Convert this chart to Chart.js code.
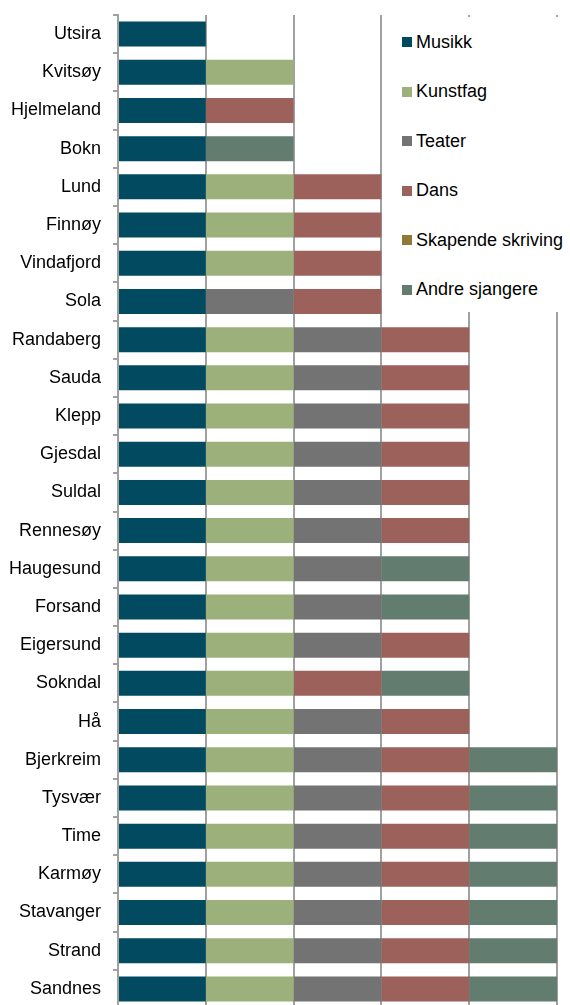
<!DOCTYPE html>
<html>
<head>
<meta charset="utf-8">
<script src="https://cdn.jsdelivr.net/npm/chart.js@4/dist/chart.umd.min.js"></script>
<style>
  html, body { margin: 0; padding: 0; background: #fff; overflow: hidden; }
  #wrap { position: relative; width: 570px; height: 1012px; }
  #legend {
    position: absolute; left: 384px; top: 17px; width: 186px; height: 295px;
    background: #fff; font-family: "Liberation Sans", Arial, sans-serif; font-size: 18px; color: #000;
  }
  .item { position: absolute; left: 18px; height: 20px; display: flex; align-items: center; white-space: nowrap; }
  .box { width: 10px; height: 10px; margin-right: 4px; }
</style>
</head>
<body>
<div id="wrap">
  <canvas id="chart" width="570" height="1012"></canvas>
  <div id="legend"></div>
</div>
<script>
// kommuner, top to bottom
const kommuner = ["Utsira", "Kvitsøy", "Hjelmeland", "Bokn", "Lund", "Finnøy", "Vindafjord", "Sola",
  "Randaberg", "Sauda", "Klepp", "Gjesdal", "Suldal", "Rennesøy", "Haugesund", "Forsand",
  "Eigersund", "Sokndal", "Hå", "Bjerkreim", "Tysvær", "Time", "Karmøy", "Stavanger", "Strand", "Sandnes"];

const sjangere = ["Musikk", "Kunstfag", "Teater", "Dans", "Skapende skriving", "Andre sjangere"];
const farger = ["#024a5f", "#9bb07a", "#737373", "#9b615a", "#8f7b37", "#627d70"];

// 1 = kommunen tilbyr sjangeren
const musikk   = [1,1,1,1,1,1,1,1,1,1,1,1,1,1,1,1,1,1,1,1,1,1,1,1,1,1];
const kunstfag = [0,1,0,0,1,1,1,0,1,1,1,1,1,1,1,1,1,1,1,1,1,1,1,1,1,1];
const teater   = [0,0,0,0,0,0,0,1,1,1,1,1,1,1,1,1,1,0,1,1,1,1,1,1,1,1];
const dans     = [0,0,1,0,1,1,1,1,1,1,1,1,1,1,0,0,1,1,1,1,1,1,1,1,1,1];
const skapende = [0,0,0,0,0,0,0,0,0,0,0,0,0,0,0,0,0,0,0,0,0,0,0,0,0,0];
const andre    = [0,0,0,1,0,0,0,0,0,0,0,0,0,0,1,1,0,1,0,1,1,1,1,1,1,1];

const serier = [musikk, kunstfag, teater, dans, skapende, andre];
const gridColor = "#a0a0a0";

new Chart(document.getElementById("chart"), {
  type: "bar",
  data: {
    labels: kommuner,
    datasets: serier.map((d, i) => ({
      label: sjangere[i],
      data: d,
      backgroundColor: farger[i],
      borderWidth: 0,
      categoryPercentage: 1,
      barPercentage: 0.655
    }))
  },
  options: {
    indexAxis: "y",
    responsive: false,
    animation: false,
    layout: { padding: { top: 15, right: 13, bottom: 4, left: 0 } },
    plugins: { legend: { display: false }, tooltip: { enabled: false } },
    scales: {
      x: {
        stacked: true,
        min: 0,
        max: 5,
        ticks: { display: false, stepSize: 1 },
        grid: { color: gridColor, lineWidth: 2, drawTicks: false },
        border: { display: false }
      },
      y: {
        stacked: true,
        afterFit: (s) => { s.width = 118; s.paddingTop = 0; s.paddingBottom = 0; },
        ticks: {
          color: "#000",
          padding: 12,
          font: { family: "'Liberation Sans', Arial, sans-serif", size: 18 }
        },
        grid: { drawOnChartArea: false, tickLength: 5, color: gridColor, lineWidth: 2, offset: true },
        border: { color: gridColor, width: 2 }
      }
    }
  }
});

// legend overlay
const legend = document.getElementById("legend");
sjangere.forEach((navn, i) => {
  const el = document.createElement("div");
  el.className = "item";
  el.style.top = (42 - 17 - 10 + i * 49.5) + "px";
  el.innerHTML = '<span class="box" style="background:' + farger[i] + '"></span>' + navn;
  legend.appendChild(el);
});
</script>
</body>
</html>
